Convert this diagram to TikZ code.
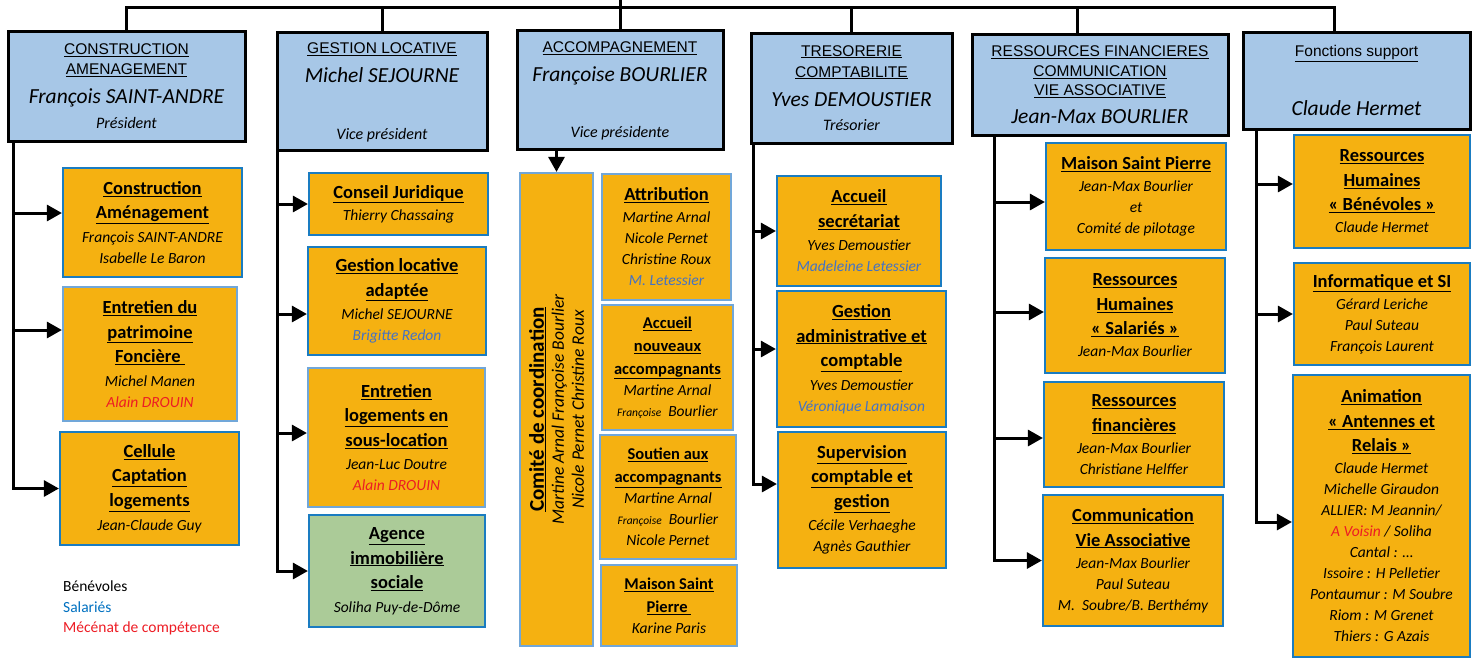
\documentclass[tikz,border=0pt]{standalone}
\usepackage{fontspec}
\setmainfont{Carlito}
\newfontfamily\capsfont{Liberation Sans}
\usetikzlibrary{arrows.meta}
\definecolor{hdrblue}{RGB}{167,199,231}
\definecolor{suborange}{RGB}{245,177,17}
\definecolor{subgreen}{RGB}{171,203,152}
\definecolor{edgedark}{RGB}{26,124,193}
\definecolor{edgelight}{RGB}{113,167,217}
\definecolor{salblue}{RGB}{68,114,196}
\definecolor{legblue}{RGB}{0,112,192}
\definecolor{mecred}{RGB}{237,28,36}
\newcommand{\btitle}[2][18.5]{{\upshape\bfseries\fontsize{#1}{21}\selectfont\underline{#2}}}
\newcommand{\hcap}[1]{{\capsfont\upshape\fontsize{15.5}{20}\selectfont\underline{#1}}}
\newcommand{\hname}[1]{{\fontsize{21.5}{20}\selectfont #1}}
\newcommand{\petit}[1]{{\fontsize{11.5}{11}\selectfont #1}}
\newcommand{\sal}[1]{\textcolor{salblue}{#1}}
\newcommand{\mec}[1]{\textcolor{mecred}{#1}}
\tikzset{
  hdr/.style={draw=black, line width=3pt, fill=hdrblue, inner sep=0pt, align=center, font=\fontsize{16}{20}\selectfont\itshape},
  sub/.style={draw=edgedark, line width=2.2pt, fill=suborange, inner sep=0pt, align=center, font=\fontsize{15.5}{21}\selectfont\itshape},
  sublight/.style={sub, draw=edgelight},
  bus/.style={line width=3pt},
  link/.style={line width=3pt, -{Triangle[length=15pt,width=16pt]}},
  legend/.style={anchor=west, inner sep=0pt, font=\fontsize{15.5}{18}\selectfont}
}
\begin{document}
\begin{tikzpicture}[x=1pt,y=-1pt]
  \useasboundingbox (0,0) rectangle (1472,659);
  \node[hdr, minimum width=237, minimum height=110] (hcons) at (126.5,86) {\hcap{CONSTRUCTION}\\ \hcap{AMENAGEMENT}\\[9pt] \hname{François SAINT-ANDRE}\\[4.5pt] Président};
  \node[hdr, minimum width=210, minimum height=118] (hgest) at (382,91) {\hcap{\rule{0pt}{14pt}GESTION LOCATIVE}\\[9pt] \hname{Michel SEJOURNE}\\[37pt] Vice président};
  \node[hdr, minimum width=206, minimum height=119] (hacc) at (620,89.5) {\hcap{\rule{0pt}{14pt}ACCOMPAGNEMENT}\\[9pt] \hname{Françoise BOURLIER}\\[36pt] Vice présidente};
  \node[hdr, minimum width=201, minimum height=110] (htres) at (851.5,88) {\hcap{TRESORERIE}\\[1pt] \hcap{COMPTABILITE}\\[9pt] \hname{Yves DEMOUSTIER}\\[4.5pt] Trésorier};
  \node[hdr, minimum width=256, minimum height=101] (hres) at (1100,84.5) {\hcap{RESSOURCES FINANCIERES}\\ \hcap{COMMUNICATION}\\[-1pt] \hcap{VIE ASSOCIATIVE}\\[8pt] \hname{Jean-Max BOURLIER}};
  \node[hdr, minimum width=227, minimum height=97] (hsup) at (1356.5,80.5) {\hcap{Fonctions support}\\[38pt] \hname{Claude Hermet}};
  \coordinate (up) at (620,0);
  \coordinate (bus) at (620,7);
  \draw[bus] (up) -- (hacc.north);
  \draw[bus] (hcons.north) |- (bus);
  \draw[bus] (hgest.north) |- (bus);
  \draw[bus] (htres.north) |- (bus);
  \draw[bus] ([xshift=-23pt]hres.north) |- (bus);
  \draw[bus] ([xshift=-22.5pt]hsup.north) |- (bus);

  \node[sub, minimum width=179, minimum height=109] (cons) at (152.5,222.5) {\btitle{Construction}\\[3.5pt] \btitle{Aménagement}\\[2.5pt] François SAINT-ANDRE\\ Isabelle Le Baron};
  \node[sublight, minimum width=174, minimum height=134] (patr) at (150,354) {\btitle{Entretien du}\\[3.5pt] \btitle{patrimoine}\\[3.5pt] \btitle{Foncière\ }\\[2.5pt] Michel Manen\\ \mec{Alain DROUIN}};
  \node[sub, minimum width=179, minimum height=113] (capt) at (149.5,488.5) {\btitle{Cellule}\\[3.5pt] \btitle{Captation}\\[3.5pt] \btitle{logements}\\[2.5pt] Jean-Claude Guy};
  \draw[link] ([xshift=7pt]hcons.south west) |- ([yshift=9.5pt]cons.west);
  \draw[link] ([xshift=7pt]hcons.south west) |- ([yshift=24pt]patr.west);
  \draw[link] ([xshift=7pt]hcons.south west) |- (capt.west);

  \node[sub, minimum width=179, minimum height=62] (jur) at (398.5,204) {\btitle{Conseil Juridique}\\[1pt] Thierry Chassaing};
  \node[sub, minimum width=178, minimum height=108] (adap) at (397,301) {\btitle{Gestion locative}\\[3.5pt] \btitle{adaptée}\\[2.5pt] Michel SEJOURNE\\ \sal{Brigitte Redon}};
  \node[sublight, minimum width=177, minimum height=139] (sous) at (396.5,437.5) {\btitle{Entretien}\\[3.5pt] \btitle{logements en}\\[3.5pt] \btitle{sous-location}\\[2.5pt] Jean-Luc Doutre\\ \mec{Alain DROUIN}};
  \node[sub, fill=subgreen, minimum width=176, minimum height=112] (agen) at (397,571) {\btitle{Agence}\\[3.5pt] \btitle{immobilière}\\[3.5pt] \btitle{sociale}\\[2.5pt] Soliha Puy-de-Dôme};
  \draw[link] ([xshift=2pt]hgest.south west) |- (jur.west);
  \draw[link] ([xshift=2pt]hgest.south west) |- ([yshift=-13pt]adap.west);
  \draw[link] ([xshift=2pt]hgest.south west) |- ([yshift=4.5pt]sous.west);
  \draw[link] ([xshift=2pt]hgest.south west) |- (agen.west);

  \node[sublight, minimum width=73, minimum height=473] (comite) at (556.5,409.5) {};
  \node[rotate=90, inner sep=0pt, align=center, font=\fontsize{17.5}{20}\selectfont\itshape] (comtxt) at (comite.center) {\btitle[21]{Comité de coordination}\\ Martine Arnal Françoise Bourlier\\ Nicole Pernet Christine Roux};
  \draw[link] (comite.north |- hacc.south) -- (comite.north);
  \node[sublight, minimum width=129, minimum height=126] (attr) at (666.5,237) {\btitle{Attribution}\\[1pt] Martine Arnal\\ Nicole Pernet\\ Christine Roux\\ \sal{M. Letessier}};
  \node[sublight, minimum width=131, minimum height=125] (accn) at (667.5,367.5) {\btitle[16.5]{Accueil}\\[2pt] \btitle[16.5]{nouveaux}\\[2pt] \btitle[16.5]{accompagnants}\\ Martine Arnal\\ \petit{Françoise}\ \ Bourlier};
  \node[sublight, minimum width=136, minimum height=124] (sout) at (668,497) {\btitle[16.5]{Soutien aux}\\[2pt] \btitle[16.5]{accompagnants}\\ Martine Arnal\\ \petit{Françoise}\ \ Bourlier\\ Nicole Pernet};
  \node[sublight, minimum width=136, minimum height=81] (maisc) at (669,605.5) {\btitle[16.5]{Maison Saint}\\[2pt] \btitle[16.5]{Pierre\ }\\ Karine Paris};

  \node[sub, minimum width=164, minimum height=110] (acsec) at (859,231) {\btitle{Accueil}\\[3.5pt] \btitle{secrétariat}\\[2.5pt] Yves Demoustier\\ \sal{Madeleine Letessier}};
  \node[sub, minimum width=169, minimum height=136] (gadm) at (861.5,359) {\btitle{Gestion}\\[3.5pt] \btitle{administrative et}\\[3.5pt] \btitle{comptable}\\[2.5pt] Yves Demoustier\\ \sal{Véronique Lamaison}};
  \node[sub, minimum width=168, minimum height=136] (superv) at (862,500) {\btitle{Supervision}\\[3.5pt] \btitle{comptable et}\\[3.5pt] \btitle{gestion}\\[2.5pt] Cécile Verhaeghe\\ Agnès Gauthier};
  \draw[link] ([xshift=4pt]htres.south west) |- (acsec.west);
  \draw[link] ([xshift=4pt]htres.south west) |- ([yshift=10pt]gadm.west);
  \draw[link] ([xshift=4pt]htres.south west) |- ([yshift=16pt]superv.west);

  \node[sub, minimum width=180, minimum height=107] (msp) at (1136,196.5) {\btitle{Maison Saint Pierre}\\[1pt] Jean-Max Bourlier\\ et\\ Comité de pilotage};
  \node[sub, minimum width=180, minimum height=115] (rhs) at (1135,315.5) {\btitle{Ressources}\\[3.5pt] \btitle{Humaines}\\[3.5pt] \btitle{« Salariés »}\\[1pt] Jean-Max Bourlier};
  \node[sub, minimum width=180, minimum height=105] (rfin) at (1134,434.5) {\btitle{Ressources}\\[3.5pt] \btitle{financières}\\[1pt] Jean-Max Bourlier\\ Christiane Helffer};
  \node[sub, minimum width=180, minimum height=131] (comm) at (1133,560.5) {\btitle{Communication}\\[3.5pt] \btitle{Vie Associative}\\[1pt] Jean-Max Bourlier\\ Paul Suteau\\ M.\ \ Soubre/B. Berthémy};
  \draw[link] ([xshift=24pt]hres.south west) |- ([yshift=-5.5pt]msp.west);
  \draw[link] ([xshift=24pt]hres.south west) |- ([yshift=3.5pt]rhs.west);
  \draw[link] ([xshift=24pt]hres.south west) |- ([yshift=-3.5pt]rfin.west);
  \draw[link] ([xshift=24pt]hres.south west) |- (comm.west);

  \node[sub, minimum width=176, minimum height=113] (rhb) at (1382,191.5) {\btitle{Ressources}\\[3.5pt] \btitle{Humaines}\\[3.5pt] \btitle{« Bénévoles »}\\[1pt] Claude Hermet};
  \node[sub, minimum width=176, minimum height=102] (info) at (1382,314) {\btitle{Informatique et SI}\\[1pt] Gérard Leriche\\ Paul Suteau\\ François Laurent};
  \node[sub, minimum width=177, minimum height=282] (anim) at (1381.5,516) {\btitle{Animation}\\[3.5pt] \btitle{« Antennes et}\\[3.5pt] \btitle{Relais »}\\[1pt] Claude Hermet\\ Michelle Giraudon\\ ALLIER: M Jeannin/\\ \mec{A Voisin} / Soliha\\ Cantal : …\\ Issoire : H Pelletier\\ Pontaumur : M Soubre\\ Riom : M Grenet\\ Thiers : G Azais};
  \draw[link] ([xshift=15pt]hsup.south west) |- ([yshift=7.5pt]rhb.west);
  \draw[link] ([xshift=15pt]hsup.south west) |- (info.west);
  \draw[link] ([xshift=15pt]hsup.south west) |- ([yshift=-6pt]anim.west);

  \node[legend] (benev) at (63,586) {Bénévoles};
  \node[legend, text=legblue] (salar) at (63,607) {Salariés};
  \node[legend, text=mecred] (mecen) at (63,628) {Mécénat de compétence};
\end{tikzpicture}
\end{document}
